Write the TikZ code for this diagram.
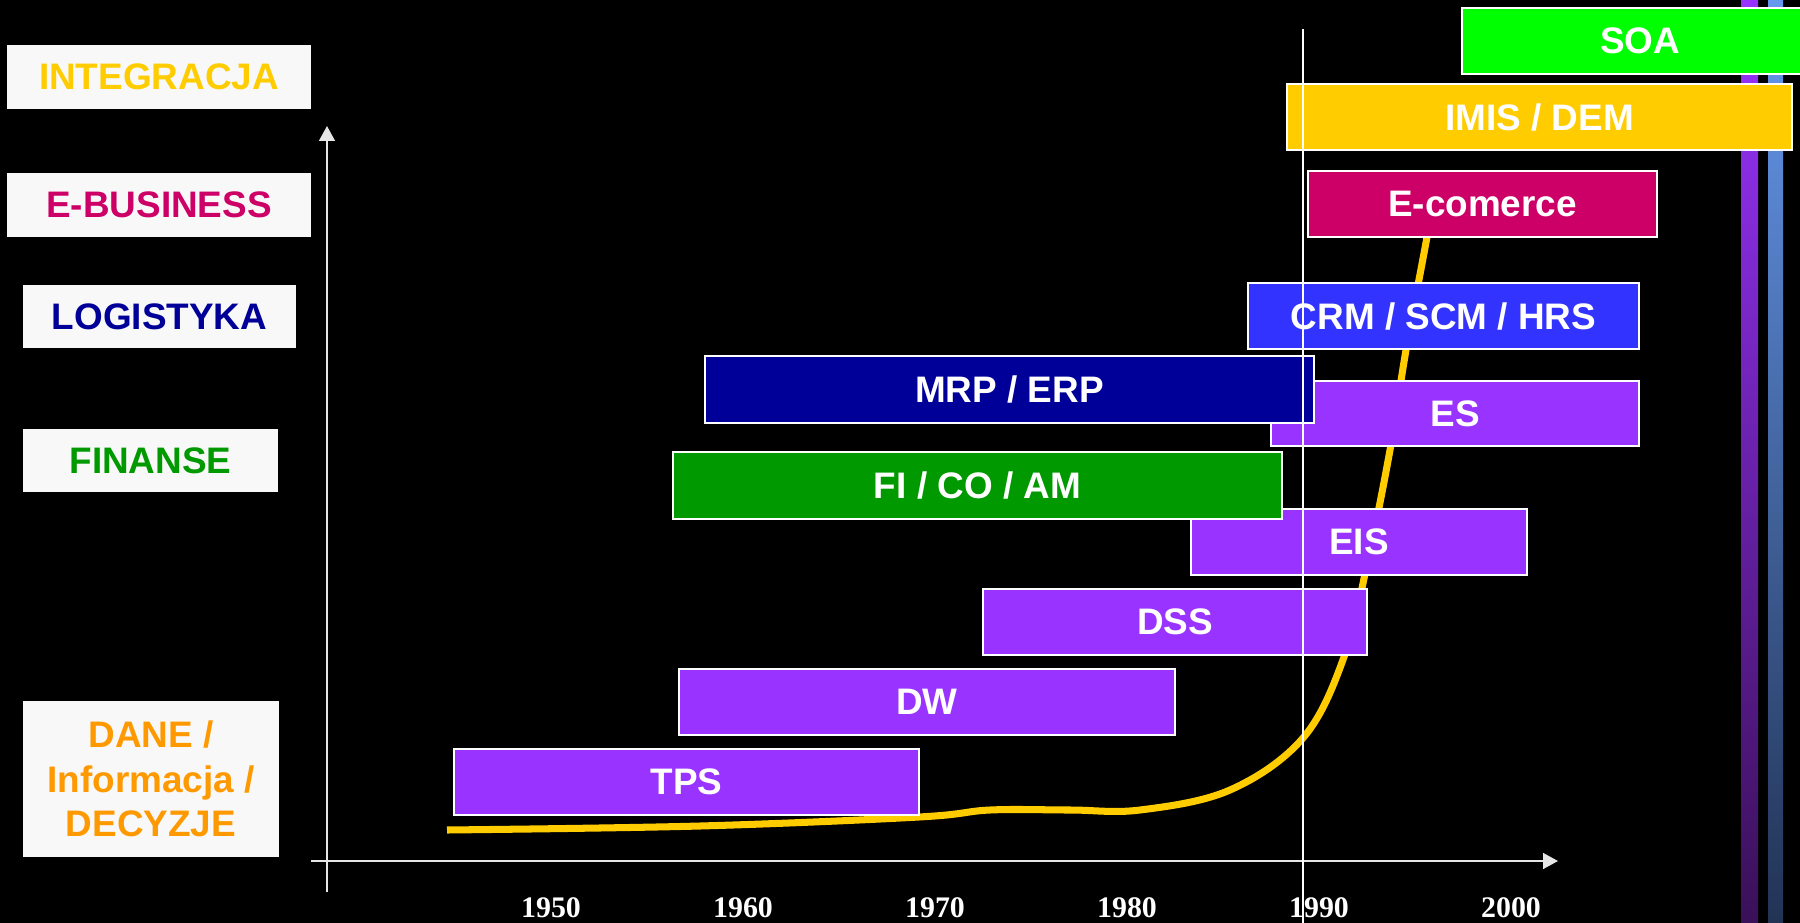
\documentclass[tikz,border=0pt]{standalone}
\usepackage{fontspec}
\setmainfont{Liberation Sans}
\newfontfamily\yearfont{Liberation Serif}
\usepackage{tikz}
\usetikzlibrary{calc,positioning,arrows.meta}

\definecolor{vio}{HTML}{9933FF}
\definecolor{crmblue}{HTML}{3333FF}
\definecolor{navy}{HTML}{000099}
\definecolor{figreen}{HTML}{009900}
\definecolor{soagreen}{HTML}{00FF00}
\definecolor{ecom}{HTML}{CC0066}
\definecolor{gold}{HTML}{FFCC00}
\definecolor{orng}{HTML}{FF9900}
\definecolor{tagbg}{HTML}{F8F8F8}
\definecolor{axisgray}{HTML}{E6E6E6}

\begin{document}
\begin{tikzpicture}[x=0.02cm, y=-0.02cm,
  bar/.style={draw=white, line width=0.8pt, inner sep=0pt, minimum height=1.32cm, text=white, font=\fontsize{21}{25}\selectfont\bfseries},
  tag/.style={fill=tagbg, inner sep=0pt, minimum height=1.28cm, align=center, font=\fontsize{21}{25.5}\selectfont\bfseries},
  yr/.style={anchor=base, text=white, font=\yearfont\fontsize{17}{20}\selectfont\bfseries},
  curve/.style={draw=gold, line width=4pt},
  axis/.style={draw=axisgray, line width=1.1pt, -{Triangle[length=8.5pt, width=9pt]}}]
\useasboundingbox (0,0) rectangle (1800,923);
\fill[black] (0,0) rectangle (1800,923);

% bars on the right edge
\shade[top color=vio, bottom color={rgb,255:red,58;green,16;blue,88}] (1741,0) rectangle (1758,923);
\shade[top color={rgb,255:red,102;green,153;blue,238}, bottom color={rgb,255:red,34;green,51;blue,85}] (1768,0) rectangle (1783,923);

% growth curve
\draw[curve] plot[smooth, tension=0.6] coordinates {(447,830) (700,826) (919,817) (990,810) (1070,810) (1140,810) (1230,790) (1303,738) (1344,657) (1368,560) (1390,450) (1406,350) (1427,237) (1435,190)};

% axes
\coordinate (o) at (327,861);
\draw[axis] (327,892) -- (327,126);
\draw[axis] (311,861) -- (1558,861);

% systems
\node[bar, fill=soagreen, minimum width=7.12cm] (soa) at (1640,41) {SOA};
\node[bar, fill=gold, minimum width=10.1cm] (imis) at (1539.5,117) {IMIS / DEM};
\node[bar, fill=ecom, minimum width=6.98cm] (ecomm) at (1482.5,204) {E-comerce};
\node[bar, fill=crmblue, minimum width=7.82cm] (crm) at (1443.5,316) {CRM / SCM / HRS};
\node[bar, fill=vio, minimum width=7.36cm, minimum height=1.3cm] (es) at (1455,413.5) {ES};
\node[bar, fill=navy, minimum width=12.18cm, minimum height=1.34cm] (mrp) at (1009.5,389.5) {MRP / ERP};
\node[bar, fill=vio, minimum width=6.72cm] (eis) at (1359,542) {EIS};
\node[bar, fill=figreen, minimum width=12.18cm, minimum height=1.34cm] (fico) at (977.5,485.5) {FI / CO / AM};
\node[bar, fill=vio, minimum width=7.68cm] (dss) at (1175,622) {DSS};
\node[bar, fill=vio, minimum width=9.92cm] (dw) at (927,702) {DW};
\node[bar, fill=vio, minimum width=9.3cm] (tps) at (686.5,782) {TPS};

% levels
\node[tag, text=gold, minimum width=6.08cm] (integ) at (159,77) {INTEGRACJA};
\node[tag, text=ecom, minimum width=6.08cm] (ebus) at (159,205) {E-BUSINESS};
\node[tag, text=navy, minimum width=5.46cm, minimum height=1.26cm] (logi) at (159.5,316.5) {LOGISTYKA};
\node[tag, text=figreen, minimum width=5.1cm, minimum height=1.26cm] (fin) at (150.5,460.5) {FINANSE};
\node[tag, text=orng, minimum width=5.12cm, minimum height=3.12cm] (dane) at (151,779) {DANE /\\ Informacja /\\ DECYZJE};

% years
\foreach \yy [count=\i from 0] in {1950,1960,...,2000}
  \node[yr] (y\yy) at (551+192*\i,917) {\yy};

\draw[white, line width=0.9pt] (1303,29) -- (1303,923);
\end{tikzpicture}
\end{document}
